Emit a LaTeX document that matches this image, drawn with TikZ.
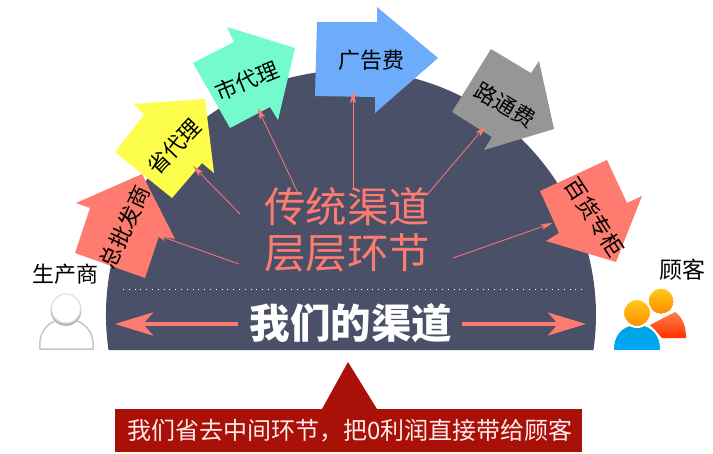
\documentclass[tikz,border=0pt]{standalone}
\usepackage{fontspec}
\setmainfont{Noto Sans CJK SC}
\usepackage{xcolor}
\usetikzlibrary{arrows.meta}
\definecolor{halfc}{HTML}{4B5069}
\definecolor{salmon}{HTML}{FD7B6F}
\definecolor{darkred}{HTML}{A81008}
\definecolor{lemon}{HTML}{FDFD4C}
\definecolor{mint}{HTML}{73FBCD}
\definecolor{skyb}{HTML}{6CACFB}
\definecolor{grayb}{HTML}{969696}
\begin{document}
\begin{tikzpicture}[x=1pt, y=-1pt, every node/.style={inner sep=0pt}]
\tikzstyle{lab}=[font=\fontsize{22}{22}\selectfont, text=black]
\tikzstyle{big}=[font=\fontsize{41.5}{41.5}\selectfont, text=salmon]
\tikzstyle{thin}=[draw=salmon, line width=0.8pt, -{Stealth[length=12pt, width=6pt, inset=3pt, sep=-6pt]}]
\tikzstyle{wide}=[draw=salmon, line width=4pt, -{Stealth[length=38pt, width=23pt, inset=10pt]}]
\tikzstyle{headc}=[top color=orange!45!yellow!90!white, bottom color=orange!90!yellow, draw=white]
\useasboundingbox (0,0) rectangle (713,453);
\fill[halfc] (108.5,350) arc[start angle=171.8, end angle=368.2, radius=245] -- cycle;
\fill[salmon] (75,253) -- (145,278) -- (159,236) -- (175,239) -- (142,174) -- (76,203) -- (90,208) -- cycle;
\fill[lemon] (115,152) -- (144,115) -- (134,104) -- (205,99) -- (214,173) -- (202,163) -- (172,198) -- cycle;
\fill[mint] (193,63) -- (234,42) -- (227,27) -- (295,48) -- (278,120) -- (270,107) -- (230,128) -- cycle;
\fill[skyb] (317,22) -- (377,22) -- (377,7) -- (438,58) -- (375,113) -- (375,97) -- (315,96) -- cycle;
\fill[grayb] (491,49) -- (531,73) -- (539,61) -- (554,129) -- (484,150) -- (492,137) -- (452,112) -- cycle;
\fill[salmon] (607,160) -- (627,203) -- (642,196) -- (616,262) -- (546,241) -- (559,233) -- (540,191) -- cycle;
\node[lab, rotate=65] (zong) at (125,227) {总批发商};
\node[lab, rotate=46] (sheng) at (174,147) {省代理};
\node[lab, rotate=22] (shi) at (247,81) {市代理};
\node[lab] (guang) at (371,60) {广告费};
\node[lab, rotate=-31] (lu) at (505,105) {路通费};
\node[lab, rotate=-57] (bai) at (595,217) {百货专柜};
\node[big] (trad) at (347,207) {传统渠道};
\node[big] (layer) at (347,253) {层层环节};
\coordinate (a1) at (239,264); \coordinate (b1) at (160,236);
\coordinate (a2) at (240,214); \coordinate (b2) at (197,170);
\coordinate (a3) at (298,193); \coordinate (b3) at (260,113);
\coordinate (a4) at (353,190); \coordinate (b4) at (353,97);
\coordinate (a5) at (427,195); \coordinate (b5) at (482,130);
\coordinate (a6) at (453,258); \coordinate (b6) at (547,225);
\draw[thin] (a1)--(b1); \draw[thin] (a2)--(b2); \draw[thin] (a3)--(b3);
\draw[thin] (a4)--(b4); \draw[thin] (a5)--(b5); \draw[thin] (a6)--(b6);
\coordinate (dl) at (123,289); \coordinate (dr) at (582,289);
\draw[white, line width=1pt, dash pattern=on 1pt off 4.8pt] (dl)--(dr);
\node[font=\fontsize{40.5}{40.5}\selectfont\bfseries, text=white] (ours) at (351,323) {我们的渠道};
\coordinate (wl) at (238,324); \coordinate (tl) at (115,324);
\coordinate (wr) at (462,324); \coordinate (tr) at (586,324);
\draw[wide] (wl)--(tl); \draw[wide] (wr)--(tr);
% banner
\fill[darkred] (115,409) rectangle (582,452);
\fill[darkred] (348,362) -- (377,409) -- (322,409) -- cycle;
\node[font=\fontsize{24}{24}\selectfont, text=white!92!red] (save) at (350,431) {我们省去中间环节，把0利润直接带给顾客};
% people
\node[lab] (maker) at (65,274) {生产商};
\node[lab, font=\fontsize{23}{23}\selectfont] (buyer) at (682,270) {顾客};
\draw[gray!45, fill=white, line width=1.5pt] (40,349) .. controls (38,330) and (50,319) .. (66,319) .. controls (82,319) and (95,330) .. (93,349) -- cycle;
\fill[gray!55] (66,310.5) circle[radius=15.5];
\draw[gray!25, fill=white, line width=1.2pt] (66,308.5) circle[radius=14.5];
\shade[top color=orange!55!red!70!white, bottom color=red!60!orange] (662,338) -- (686,338) .. controls (686,325) and (682,317) .. (675,312) -- (650,325) -- cycle;
\shade[headc, line width=0pt] (661,301) circle[radius=13];
\draw[white, line width=2pt, top color=cyan!75!blue!85!black, bottom color=cyan!65!blue] (613,351) .. controls (612,335) and (622,324) .. (637,324) .. controls (652,324) and (662,335) .. (661,351) -- cycle;
\draw[headc, line width=2pt] (637,313) circle[radius=14];
\end{tikzpicture}
\end{document}
